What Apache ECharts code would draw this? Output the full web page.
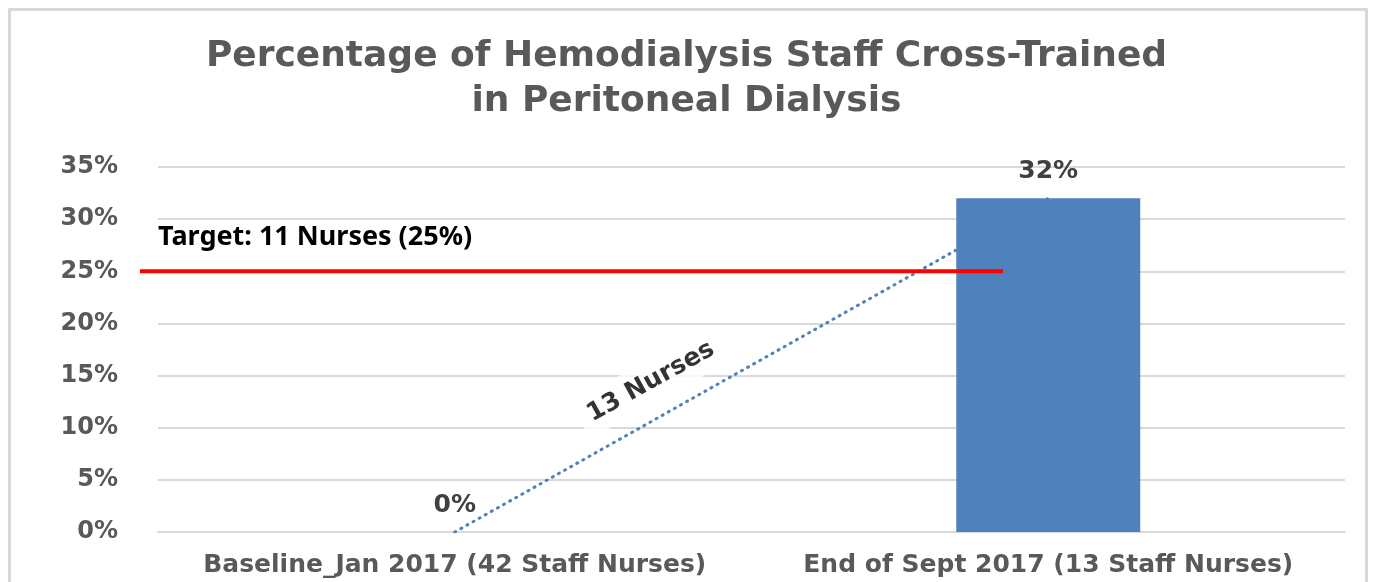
<!DOCTYPE html>
<html>
<head>
<meta charset="utf-8">
<title>Hemodialysis staff cross-trained</title>
<script src="https://cdn.jsdelivr.net/npm/echarts@6/dist/echarts.min.js"></script>
<style>
  html, body { margin: 0; padding: 0; background: #fff; }
  #frame { position: absolute; left: 8px; top: 8px; width: 1354px; height: 600px; border: 3px solid #d9d9d9; }
  #chart { position: absolute; left: 0; top: 0; width: 1373px; height: 582px; }
</style>
</head>
<body>
<div id="frame"></div>
<div id="chart"></div>
<script>
// data
var categories = ['Baseline_Jan 2017 (42 Staff Nurses)', 'End of Sept 2017 (13 Staff Nurses)'];
var percentTrained = [0, 32];
var yTicks = [0, 35, 5]; // min, max, step
var targetValue = 25;
var targetLabel = 'Target: 11 Nurses (25%)';
// overlay layer (target line + annotation), x in 0..1 across the overlay
var targetSpan = [0, 1];
var trendLabel = '13 Nurses';
var trendLabelAt = [0.592, 14.4];

var chart = echarts.init(document.getElementById('chart'));

var font = 'DejaVu Sans';

var options = {
  animation: false,
  title: {
    text: 'Percentage of Hemodialysis Staff Cross-Trained\nin Peritoneal Dialysis',
    left: 'center',
    top: 29,
    textStyle: {
      fontFamily: font,
      fontWeight: 'bold',
      fontSize: 36,
      color: '#595959',
      lineHeight: 45
    }
  },
  grid: [
    { left: 158, right: 28, top: 167, bottom: 50, containLabel: false },
    // overlay for the hand-drawn target line, reaching a little left of the plot
    { left: 140, right: 370, top: 167, bottom: 50, containLabel: false }
  ],
  xAxis: [{
    type: 'category',
    gridIndex: 0,
    data: categories,
    axisLine: { lineStyle: { color: '#d9d9d9', width: 2 } },
    axisTick: { show: false },
    axisLabel: {
      interval: 0,
      hideOverlap: false,
      margin: 21,
      fontFamily: font,
      fontWeight: 'bold',
      fontSize: 25,
      color: '#595959'
    }
  }, {
    type: 'value',
    gridIndex: 1,
    min: 0,
    max: 1,
    show: false
  }],
  yAxis: [{
    type: 'value',
    gridIndex: 0,
    min: yTicks[0],
    max: yTicks[1],
    interval: yTicks[2],
    axisLine: { show: false },
    axisTick: { show: false },
    splitLine: { lineStyle: { color: '#d9d9d9', width: 2 } },
    axisLabel: {
      margin: 40,
      formatter: '{value}%',
      fontFamily: font,
      fontWeight: 'bold',
      fontSize: 24,
      color: '#595959'
    }
  }, {
    type: 'value',
    gridIndex: 1,
    min: yTicks[0],
    max: yTicks[1],
    show: false
  }],
  series: [{
    // dotted trend between the two measurements
    type: 'line',
    data: percentTrained,
    z: 1,
    showSymbol: false,
    symbol: 'none',
    lineStyle: { color: '#4F81BD', width: 3, type: [1, 6], cap: 'round' },
    silent: true
  }, {
    type: 'bar',
    data: percentTrained,
    z: 2,
    barWidth: '31%',
    itemStyle: { color: '#4F81BD' },
    label: {
      show: true,
      position: 'top',
      distance: 14,
      formatter: '{c}%',
      fontFamily: font,
      fontWeight: 'bold',
      fontSize: 25,
      color: '#404040'
    }
  }, {
    // target line
    type: 'line',
    xAxisIndex: 1,
    yAxisIndex: 1,
    z: 3,
    data: [[targetSpan[0], targetValue], [targetSpan[1], targetValue]],
    symbol: 'circle',
    symbolSize: 0,
    showSymbol: true,
    lineStyle: { color: '#ff0000', width: 4 },
    label: {
      show: true,
      position: 'top',
      align: 'left',
      offset: [18, -15],
      formatter: function (p) { return p.dataIndex === 0 ? targetLabel : ''; },
      fontFamily: 'Noto Sans',
      fontWeight: 'bold',
      fontSize: 27,
      color: '#000'
    }
  }, {
    // rotated annotation along the trend
    type: 'scatter',
    xAxisIndex: 1,
    yAxisIndex: 1,
    z: 4,
    data: [trendLabelAt],
    symbolSize: 0,
    label: {
      show: true,
      position: 'inside',
      rotate: 29,
      formatter: trendLabel,
      backgroundColor: '#fff',
      padding: [8, 10],
      fontFamily: font,
      fontWeight: 'bold',
      fontSize: 25,
      color: '#000'
    }
  }]
};

chart.setOption(options);
</script>
</body>
</html>
